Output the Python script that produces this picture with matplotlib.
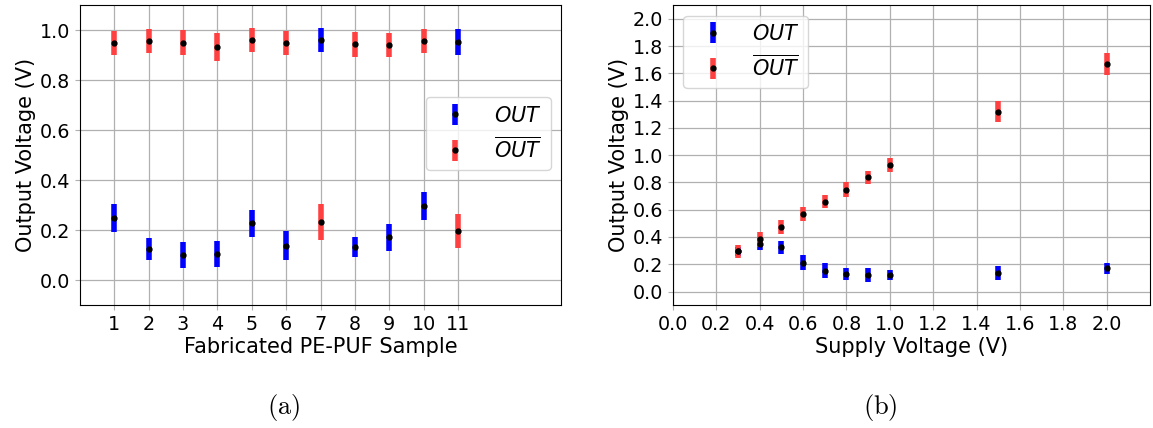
import numpy as np
import matplotlib
matplotlib.use("Agg")
import matplotlib.pyplot as plt

plt.rcParams["mathtext.fontset"] = "dejavusans"

# (a) output of each fabricated sample at nominal supply
samples = [1, 2, 3, 4, 5, 6, 7, 8, 9, 10, 11]
out_a = [0.248, 0.126, 0.100, 0.104, 0.228, 0.138, 0.960, 0.134, 0.171, 0.297, 0.952]
out_a_err = [0.055, 0.044, 0.052, 0.052, 0.054, 0.058, 0.049, 0.040, 0.054, 0.056, 0.052]
outb_a = [0.949, 0.956, 0.949, 0.934, 0.961, 0.948, 0.233, 0.944, 0.940, 0.956, 0.195]
outb_a_err = [0.049, 0.048, 0.050, 0.056, 0.048, 0.048, 0.072, 0.050, 0.048, 0.048, 0.068]

# (b) output versus supply voltage
vdd = [0.3, 0.4, 0.5, 0.6, 0.7, 0.8, 0.9, 1.0, 1.5, 2.0]
out_b = [0.294, 0.348, 0.323, 0.211, 0.152, 0.130, 0.122, 0.122, 0.137, 0.169]
out_b_err = [0.030, 0.047, 0.049, 0.056, 0.056, 0.042, 0.049, 0.038, 0.049, 0.043]
outb_b = [0.294, 0.384, 0.472, 0.568, 0.659, 0.747, 0.837, 0.928, 1.319, 1.670]
outb_b_err = [0.049, 0.055, 0.049, 0.049, 0.049, 0.056, 0.049, 0.053, 0.078, 0.080]

BLUE = "#0000ff"
RED = "#ff4040"
TICK_FS = 13.8
LABEL_FS = 15

fig = plt.figure(figsize=(11.53, 4.28), dpi=100)
ax1 = fig.add_axes([0.0694, 0.287, 0.4172, 0.701])
ax2 = fig.add_axes([0.5837, 0.287, 0.4137, 0.701])


def draw(ax, x, y1, e1, y2, e2):
    kw = dict(fmt="o", ms=3.5, mfc="black", mec="black", elinewidth=4, capsize=0)
    ax.errorbar(x, y1, yerr=e1, ecolor=BLUE, label="$OUT$", **kw)
    ax.errorbar(x, y2, yerr=e2, ecolor=RED, label=r"$\overline{OUT}$", **kw)
    ax.grid(True, color="#b0b0b0", lw=0.9)
    ax.set_axisbelow(True)
    ax.tick_params(labelsize=TICK_FS, color="#b0b0b0")
    ax.set_ylabel("Output Voltage (V)", fontsize=LABEL_FS, labelpad=3)


draw(ax1, samples, out_a, out_a_err, outb_a, outb_a_err)
ax1.set_xlim(0, 14)
ax1.set_ylim(-0.1, 1.1)
ax1.set_xticks(samples)
ax1.set_yticks(np.arange(0, 1.01, 0.2))
ax1.set_xlabel("Fabricated PE-PUF Sample", fontsize=LABEL_FS, labelpad=2)
ax1.legend(loc="center right", fontsize=15, handletextpad=0.9,
           borderaxespad=0.5, bbox_to_anchor=(1.0, 0.572))

draw(ax2, vdd, out_b, out_b_err, outb_b, outb_b_err)
ax2.set_xlim(0, 2.2)
ax2.set_ylim(-0.1, 2.1)
ax2.set_xticks(np.arange(0, 2.01, 0.2))
ax2.set_yticks(np.arange(0, 2.01, 0.2))
ax2.set_xlabel("Supply Voltage (V)", fontsize=LABEL_FS, labelpad=2)
ax2.legend(loc="upper left", fontsize=15, handletextpad=0.9,
           borderaxespad=0.5, bbox_to_anchor=(0.0, 1.0))

fig.text(0.2455, 0.049, r"$\mathrm{(a)}$", fontsize=19, ha="center",
         va="center", math_fontfamily="cm")
fig.text(0.7633, 0.049, r"$\mathrm{(b)}$", fontsize=19, ha="center",
         va="center", math_fontfamily="cm")

fig.savefig("out.png", dpi=100)
